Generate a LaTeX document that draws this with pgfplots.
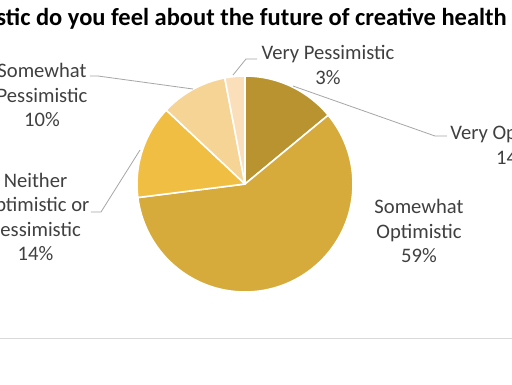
\documentclass[border=0pt]{standalone}
\usepackage{pgfplots}
\pgfplotsset{compat=1.18}
\usepackage{fontspec}
\setmainfont{Carlito}
\definecolor{cVO}{HTML}{B8932F}
\definecolor{cSO}{HTML}{D6AA3B}
\definecolor{cNe}{HTML}{F0BE43}
\definecolor{cSP}{HTML}{F5D496}
\definecolor{cVP}{HTML}{FADFBA}
\definecolor{lead}{HTML}{A6A6A6}
\definecolor{txt}{HTML}{404040}
\definecolor{rule}{HTML}{D9D9D9}
% slice: colour, start percent, end percent (clockwise from 12 o'clock)
\newcommand\slice[3]{%
  \addplot[fill=#1, draw=white, line width=1.6pt, line join=round,
    domain=90-3.6*#3:90-3.6*#2, samples=90, variable=\t]
    ({245+108*cos(\t)},{184-108*sin(\t)}) -- (axis cs:245,184) -- cycle;}
\tikzset{lbl/.style={font=\fontsize{20.6}{24.2}\selectfont, text=txt, align=center, inner sep=0pt}}
\begin{document}
\begin{tikzpicture}
\useasboundingbox (0,0) rectangle (512pt,384pt);
\fill[white] (0,0) rectangle (512pt,384pt);
\clip (0,0) rectangle (512pt,384pt);
\begin{axis}[at={(0pt,0pt)}, anchor=south west, scale only axis,
  width=512pt, height=384pt, xmin=0, xmax=512, ymin=0, ymax=384,
  y dir=reverse, hide axis, clip=false]
% Very Optimistic 14, Somewhat Optimistic 59, Neither 14, Somewhat Pessimistic 10, Very Pessimistic 3
\slice{cVO}{0}{14}
\slice{cSO}{14}{73}
\slice{cNe}{73}{87}
\slice{cSP}{87}{97}
\slice{cVP}{97}{100}
% leader lines
\addplot[lead, line width=0.8pt] coordinates {(233,75) (246,59) (257,59)};
\addplot[lead, line width=0.8pt] coordinates {(293,86) (435,136) (447,136)};
\addplot[lead, line width=0.8pt] coordinates {(90,76) (98,76) (193,89)};
\addplot[lead, line width=0.8pt] coordinates {(91,212) (101,212) (140,150)};
\addplot[rule, line width=1pt] coordinates {(0,338) (512,338)};
% labels
\node[lbl] at (axis cs:328,65) {Very Pessimistic\\3\%};
\node[lbl] at (axis cs:514,145) {Very Optimistic\\14\%};
\node[lbl] at (axis cs:419,231) {Somewhat\\Optimistic\\59\%};
\node[lbl] at (axis cs:42,95) {Somewhat\\Pessimistic\\10\%};
\node[lbl] at (axis cs:35.5,217) {Neither\\Optimistic or\\Pessimistic\\14\%};
\node[anchor=base east, inner sep=0pt, font=\fontsize{24.5}{28}\selectfont\bfseries] at (axis cs:507,25) {How optimistic do you feel about the future of creative health};
\end{axis}
\end{tikzpicture}
\end{document}
